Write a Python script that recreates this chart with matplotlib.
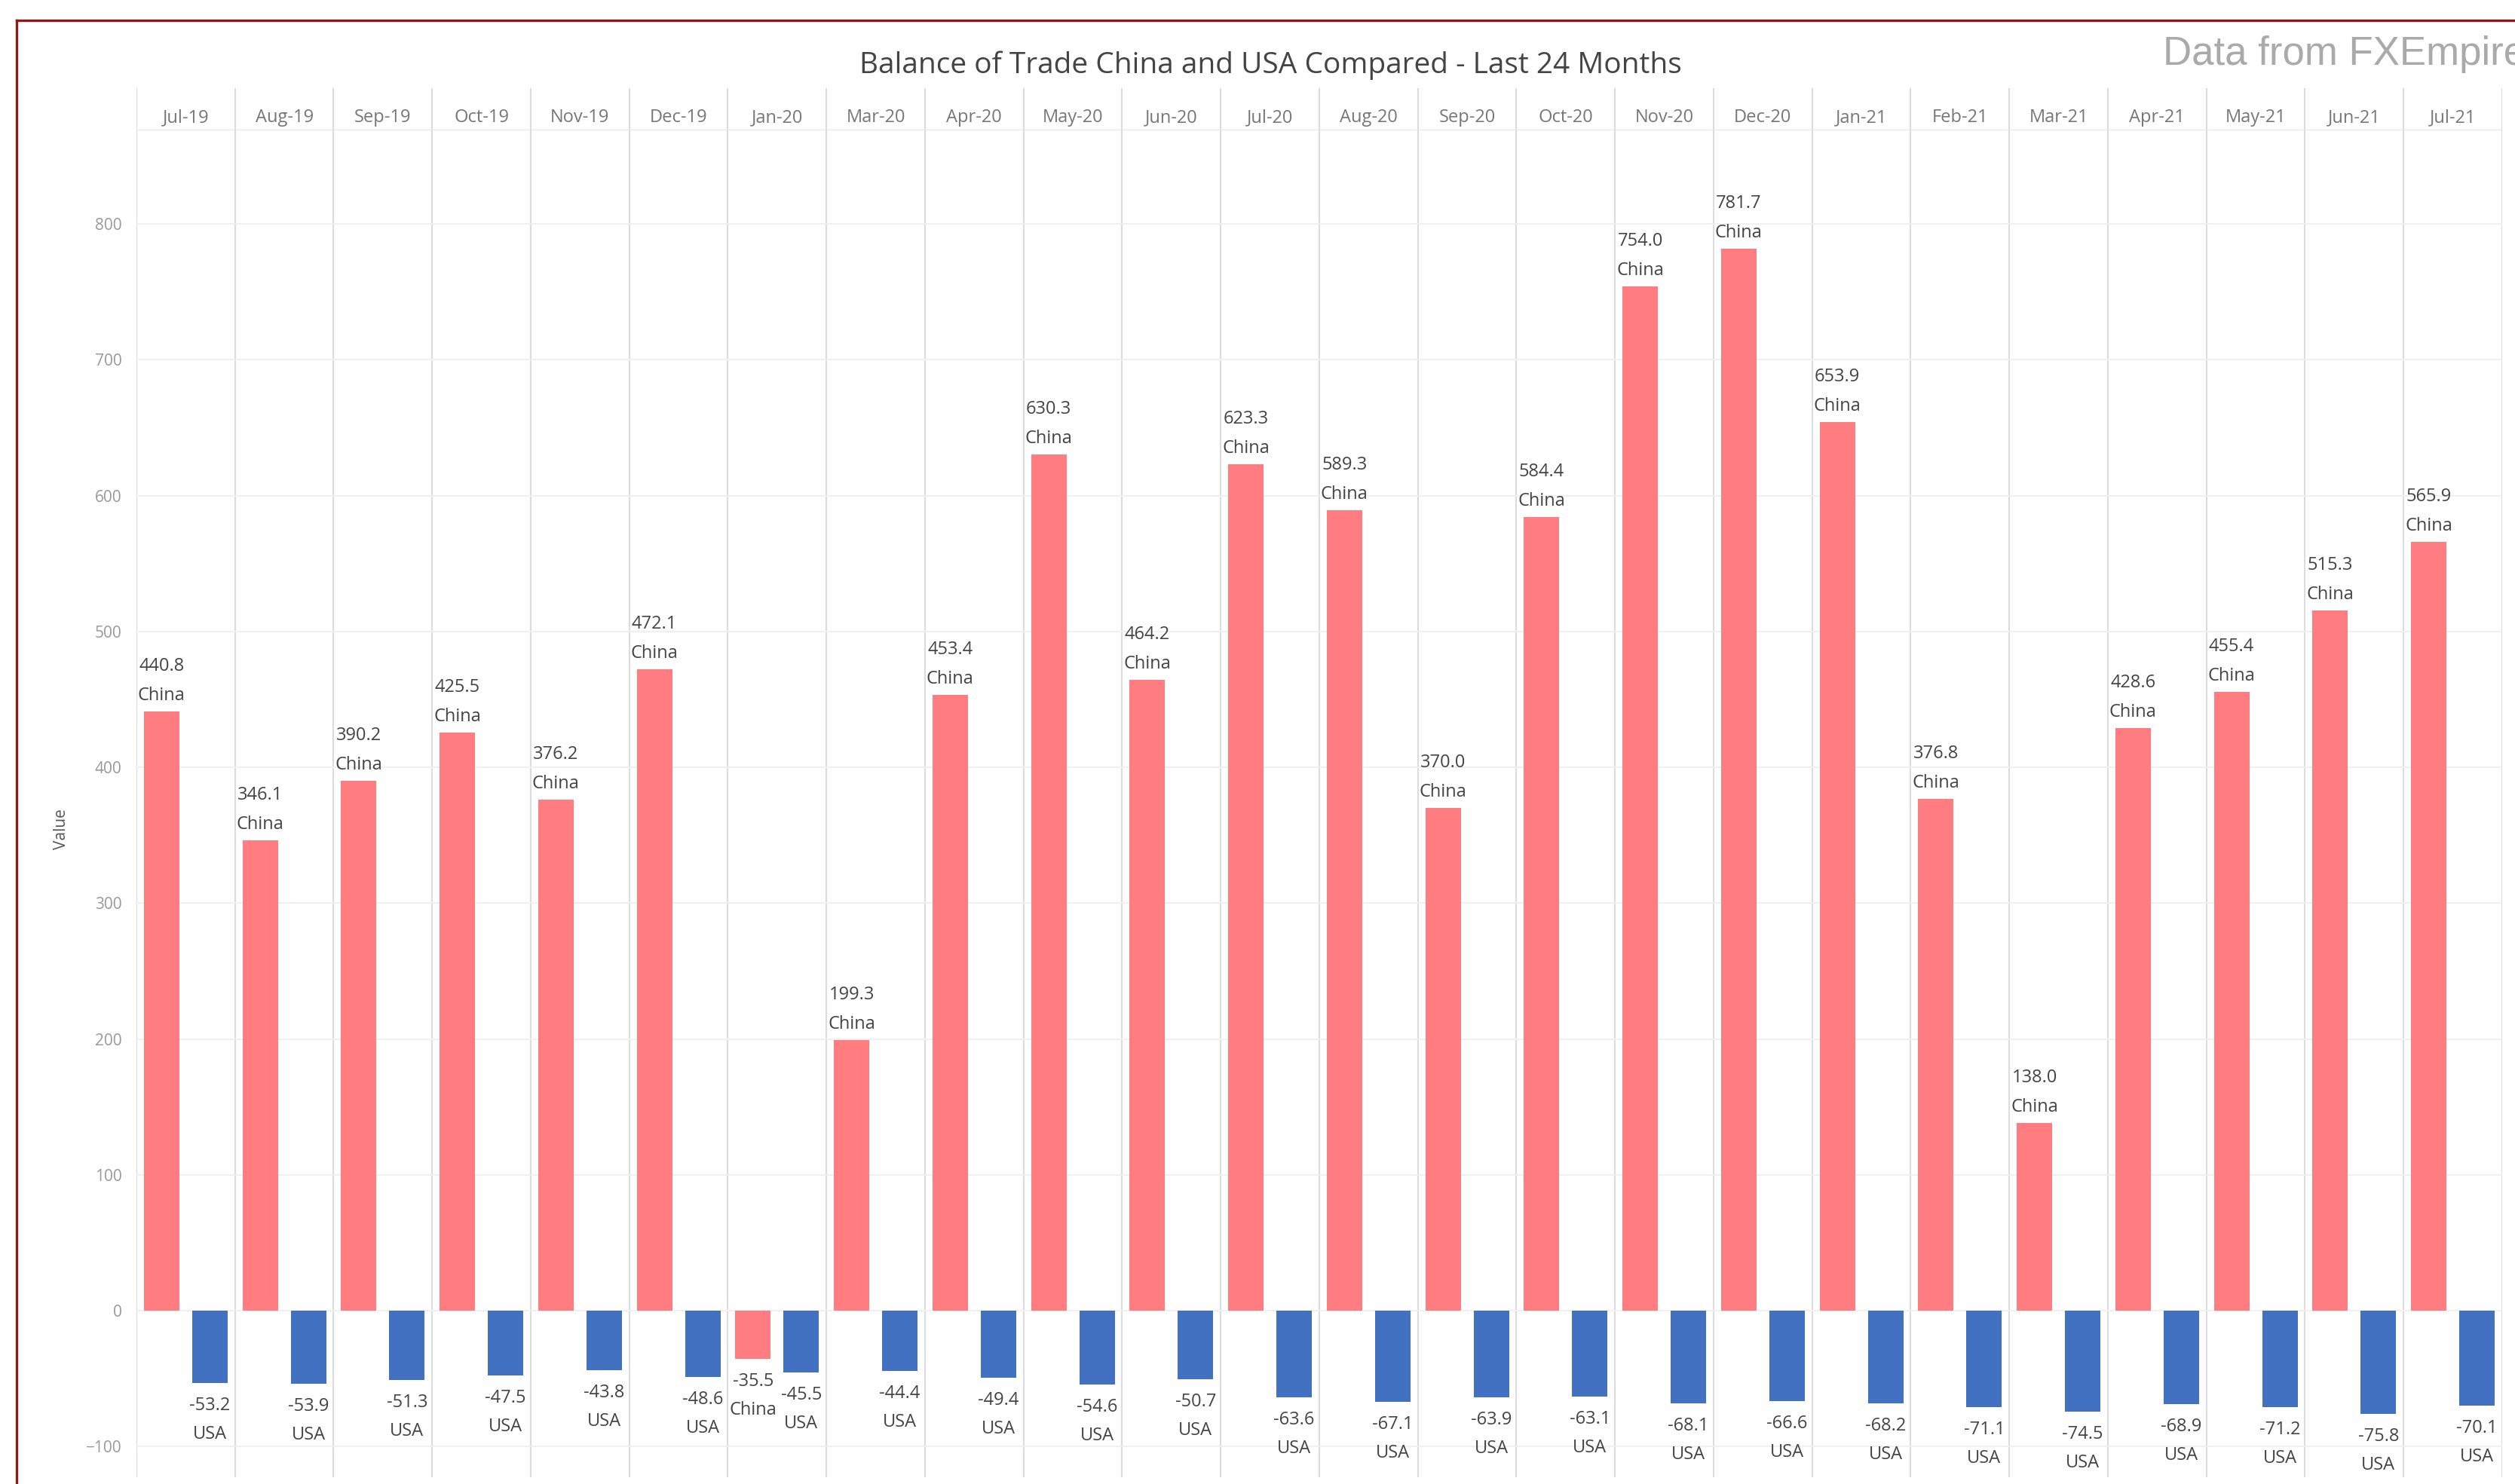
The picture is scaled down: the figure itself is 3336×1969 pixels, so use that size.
import numpy as np
import matplotlib
matplotlib.use('Agg')
import matplotlib.pyplot as plt
from matplotlib.lines import Line2D

months = ['Jul-19', 'Aug-19', 'Sep-19', 'Oct-19', 'Nov-19', 'Dec-19', 'Jan-20', 'Mar-20',
          'Apr-20', 'May-20', 'Jun-20', 'Jul-20', 'Aug-20', 'Sep-20', 'Oct-20', 'Nov-20',
          'Dec-20', 'Jan-21', 'Feb-21', 'Mar-21', 'Apr-21', 'May-21', 'Jun-21', 'Jul-21']
china = [440.8, 346.1, 390.2, 425.5, 376.2, 472.1, -35.5, 199.3, 453.4, 630.3, 464.2, 623.3,
         589.3, 370.0, 584.4, 754.0, 781.7, 653.9, 376.8, 138.0, 428.6, 455.4, 515.3, 565.9]
usa = [-53.2, -53.9, -51.3, -47.5, -43.8, -48.6, -45.5, -44.4, -49.4, -54.6, -50.7, -63.6,
       -67.1, -63.9, -63.1, -68.1, -66.6, -68.2, -71.1, -74.5, -68.9, -71.2, -75.8, -70.1]
yticks = [-100, 0, 100, 200, 300, 400, 500, 600, 700, 800]

plt.rcParams['font.family'] = ['Open Sans', 'DejaVu Sans']

W, H = 3337, 1969
fig = plt.figure(figsize=(W / 100, H / 100), dpi=100)

# main plot area and the header strip with month names
ax = fig.add_axes([181 / W, 1 - 1960 / H, (3319 - 181) / W, (1960 - 173) / H])
hax = fig.add_axes([181 / W, 1 - 173 / H, (3319 - 181) / W, (173 - 117) / H])

x = np.arange(len(months))
ax.bar(x - 0.245, china, 0.36, color='#FF7C80', zorder=3)
ax.bar(x + 0.245, usa, 0.36, color='#4271C2', zorder=3)

def label(xpos, val, name):
    if val >= 0:
        offs = (60, 21)
    else:
        offs = (-30, -68)
    ax.annotate('%.1f' % val, (xpos, val), xytext=(0, offs[0]), textcoords='offset pixels',
                ha='center', va='center', fontsize=17, color='#444444', zorder=4)
    ax.annotate(name, (xpos, val), xytext=(0, offs[1]), textcoords='offset pixels',
                ha='center', va='center', fontsize=17, color='#444444', zorder=4)

for i in range(len(months)):
    label(x[i] - 0.245, china[i], 'China')
    label(x[i] + 0.245, usa[i], 'USA')

for a in (ax, hax):
    a.set_xlim(-0.5, len(months) - 0.5)
    for i in range(len(months) + 1):
        a.axvline(i - 0.5, color='#dcdcdc', lw=1.5, zorder=1)
    for s in a.spines.values():
        s.set_visible(False)

ax.set_ylim(-122.6, 868.8)
ax.set_yticks(yticks)
ax.set_xticks([])
ax.grid(axis='y', color='#f0f0f0', lw=1.5, zorder=0)
ax.tick_params(axis='y', length=0, pad=14, labelsize=15, labelcolor='#999999')

hax.set_ylim(0, 1)
hax.set_xticks([])
hax.set_yticks([])
hax.axhline(0, color='#e6e6e6', lw=1.5)
for i, m in enumerate(months):
    hax.text(i, 0.3, m, ha='center', va='center', fontsize=17, color='#777777')

fig.text(82 / W, 1 - 1100 / H, 'Value', rotation=90, ha='center', va='center',
         fontsize=15, color='#555555')
fig.text(1685 / W, 1 - 87 / H, 'Balance of Trade China and USA Compared - Last 24 Months',
         ha='center', va='center', fontsize=28, color='#444444')
fig.text(2869 / W, 1 - 72 / H, 'Data from FXEmpire', ha='left', va='center',
         fontsize=38, color='#aaaaaa', family='Liberation Sans')

# dark red frame (left and top edges visible)
fig.add_artist(Line2D([22 / W, 22 / W], [0, 1 - 27 / H], color='#8B1A1A', lw=2.4))
fig.add_artist(Line2D([22 / W, 1], [1 - 27 / H, 1 - 27 / H], color='#8B1A1A', lw=2.4))

fig.savefig('out.png', dpi=100)
